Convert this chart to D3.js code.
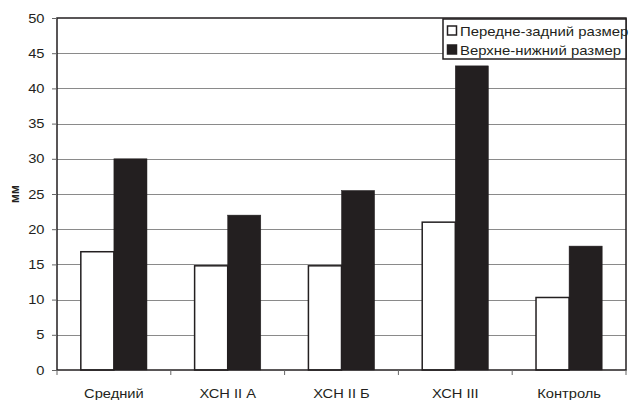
<!DOCTYPE html>
<html>
<head>
<meta charset="utf-8">
<script src="https://cdn.jsdelivr.net/npm/d3@7"></script>
<style>
  html, body { margin: 0; padding: 0; background: #fff; overflow: hidden; }
  svg { display: block; font-family: "Liberation Sans", Arial, sans-serif; }
</style>
</head>
<body>
<svg id="chart" width="629" height="400"></svg>
<script>
// Groups along the x axis
const categories = ["Средний", "ХСН II А", "ХСН II Б", "ХСН III", "Контроль"];
// Series names and values (mm)
const seriesNames = ["Передне-задний размер", "Верхне-нижний размер"];
const anteroPosterior = [16.8, 14.8, 14.8, 21.0, 10.3];
const superoInferior = [30.0, 22.0, 25.5, 43.2, 17.6];
const yTicks = [0, 5, 10, 15, 20, 25, 30, 35, 40, 45, 50];
const yLabel = "мм";

const dark = "#231f20";
const stretch = 1.13; // slightly wide lettering
const svg = d3.select("#chart");
const margin = { left: 57, right: 3, top: 18, bottom: 30 };
const W = 629, H = 400;
const plotW = W - margin.left - margin.right;
const plotH = H - margin.top - margin.bottom;

const x = d3.scaleBand().domain(categories).range([margin.left, margin.left + plotW]).paddingInner(0).paddingOuter(0);
const x1 = d3.scaleBand().domain([0, 1]).range([0, x.bandwidth()]).paddingInner(0).paddingOuter(0.72);
const y = d3.scaleLinear().domain([0, 50]).range([margin.top + plotH, margin.top]);

// Text placed at (px, py) and widened around its anchor point
function label(parent, px, py, str, anchor, size, weight) {
  return parent.append("text")
    .attr("transform", `translate(${px},${py}) scale(${stretch},1)`)
    .attr("text-anchor", anchor)
    .attr("font-size", size)
    .attr("font-weight", weight || "normal")
    .attr("fill", dark)
    .text(str);
}

// Horizontal gridlines
svg.append("g").selectAll("line").data(yTicks.filter(t => t > 0 && t < 50)).join("line")
  .attr("x1", margin.left).attr("x2", margin.left + plotW)
  .attr("y1", d => Math.round(y(d)) + 0.5).attr("y2", d => Math.round(y(d)) + 0.5)
  .attr("stroke", "#8a8a8a").attr("stroke-width", 1);

// Bars
const series = [anteroPosterior, superoInferior];
const g = svg.append("g");
series.forEach((vals, si) => {
  g.selectAll(null).data(vals).join("rect")
    .attr("x", (d, i) => x(categories[i]) + x1(si))
    .attr("y", d => y(d))
    .attr("width", x1.bandwidth())
    .attr("height", d => y(0) - y(d))
    .attr("fill", si === 0 ? "#fff" : dark)
    .attr("stroke", dark)
    .attr("stroke-width", si === 0 ? 1.5 : 0.5);
});

// Plot frame
svg.append("rect")
  .attr("x", margin.left).attr("y", margin.top)
  .attr("width", plotW).attr("height", plotH)
  .attr("fill", "none").attr("stroke", dark).attr("stroke-width", 1.5);

// Y axis ticks and labels
const yAxis = d3.axisLeft(y).tickValues(yTicks).tickSize(5).tickFormat("");
const ya = svg.append("g").attr("transform", `translate(${margin.left},0)`).call(yAxis);
ya.select(".domain").remove();
ya.selectAll(".tick line").attr("stroke", "#666");
ya.selectAll(".tick text").remove();
const yl = svg.append("g");
yTicks.forEach(t => label(yl, 44.5, y(t) + 4.6, d3.format("d")(t), "end", 13));

// X axis: ticks at group boundaries, labels at group centers
const boundaries = categories.map(c => x(c)).concat([x(categories[categories.length - 1]) + x.bandwidth()]);
svg.append("g").selectAll("line").data(boundaries).join("line")
  .attr("x1", d => d).attr("x2", d => d)
  .attr("y1", y(0)).attr("y2", y(0) + 5)
  .attr("stroke", "#666");
const xl = svg.append("g");
categories.forEach(c => label(xl, x(c) + x.bandwidth() / 2, y(0) + 28, c, "middle", 13));

// Y axis title
svg.append("text")
  .attr("transform", `translate(19,${y(25)}) rotate(-90)`)
  .attr("text-anchor", "middle")
  .attr("font-size", 12).attr("font-weight", "bold").attr("fill", dark)
  .text(yLabel);

// Legend
const lg = svg.append("g").attr("transform", "translate(443,19)");
lg.append("rect").attr("x", 0).attr("y", 0).attr("width", 183).attr("height", 40)
  .attr("fill", "#fff").attr("stroke", dark).attr("stroke-width", 1.5);
seriesNames.forEach((name, i) => {
  const cy = 11.5 + i * 19;
  lg.append("rect").attr("x", 4.5).attr("y", cy - 4.5).attr("width", 9).attr("height", 9)
    .attr("fill", i === 0 ? "#fff" : dark).attr("stroke", dark).attr("stroke-width", 1.5);
  label(lg, 17, cy + 5, name, "start", 13.2);
});
</script>
</body>
</html>
